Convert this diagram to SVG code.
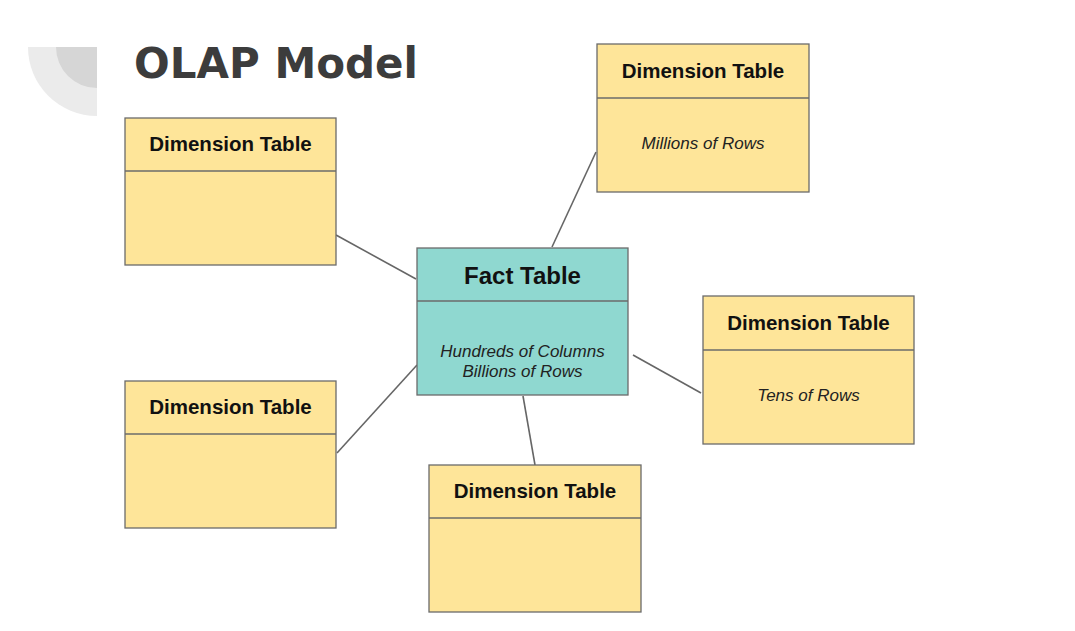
<svg xmlns="http://www.w3.org/2000/svg" width="1075" height="631" viewBox="0 0 1075 631">
<style>
.box{stroke:#6b6b6b;stroke-width:1.3}
.dim{fill:#fee599}
.fact{fill:#8fd8d0}
.hdr{font-family:"Liberation Sans",Arial,sans-serif;font-weight:bold;font-size:20.5px;fill:#111;text-anchor:middle}
.fhdr{font-family:"Liberation Sans",Arial,sans-serif;font-weight:bold;font-size:24px;fill:#111;text-anchor:middle}
.body{font-family:"Liberation Sans",Arial,sans-serif;font-style:italic;font-size:17px;fill:#222;text-anchor:middle}
.conn line{stroke:#666;stroke-width:1.6}
</style>
<rect width="1075" height="631" fill="#ffffff"/>
<g id="decoration">
<path d="M28,47 L97,47 L97,116 A69,69 0 0 1 28,47 Z" fill="#ebebeb"/>
<path d="M56,47 L97,47 L97,88 A41,41 0 0 1 56,47 Z" fill="#d6d6d6"/>
</g>
<text x="134" y="78" font-family="DejaVu Sans,Verdana,sans-serif" font-weight="bold" font-size="42" fill="#3c3c3c">OLAP Model</text>
<g class="conn" id="connectors">
<line x1="336" y1="235" x2="416" y2="279"/>
<line x1="337" y1="453" x2="417" y2="365"/>
<line x1="552" y1="247" x2="596" y2="152"/>
<line x1="633" y1="355" x2="701" y2="393"/>
<line x1="523" y1="396" x2="535" y2="465"/>
</g>
<g id="fact">
<rect class="box fact" x="417" y="248" width="211" height="147"/>
<line class="box" x1="417" y1="301" x2="628" y2="301"/>
<text class="fhdr" x="522.5" y="284">Fact Table</text>
<text class="body" x="522.5" y="357">Hundreds of Columns</text>
<text class="body" x="522.5" y="377">Billions of Rows</text>
</g>
<g id="dim-top-left">
<rect class="box dim" x="125" y="118" width="211" height="147"/>
<line class="box" x1="125" y1="171" x2="336" y2="171"/>
<text class="hdr" x="230.5" y="151">Dimension Table</text>
</g>
<g id="dim-bottom-left">
<rect class="box dim" x="125" y="381" width="211" height="147"/>
<line class="box" x1="125" y1="434" x2="336" y2="434"/>
<text class="hdr" x="230.5" y="414">Dimension Table</text>
</g>
<g id="dim-top-right">
<rect class="box dim" x="597" y="44" width="212" height="148"/>
<line class="box" x1="597" y1="98" x2="809" y2="98"/>
<text class="hdr" x="703" y="78">Dimension Table</text>
<text class="body" x="703" y="149">Millions of Rows</text>
</g>
<g id="dim-right">
<rect class="box dim" x="703" y="296" width="211" height="148"/>
<line class="box" x1="703" y1="350" x2="914" y2="350"/>
<text class="hdr" x="808.5" y="330">Dimension Table</text>
<text class="body" x="808.5" y="401">Tens of Rows</text>
</g>
<g id="dim-bottom">
<rect class="box dim" x="429" y="465" width="212" height="147"/>
<line class="box" x1="429" y1="518" x2="641" y2="518"/>
<text class="hdr" x="535" y="498">Dimension Table</text>
</g>
</svg>
